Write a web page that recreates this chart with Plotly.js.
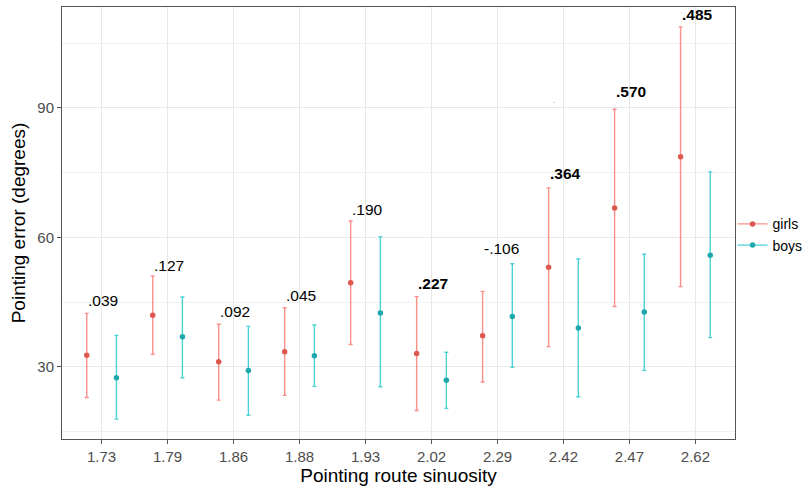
<!DOCTYPE html>
<html>
<head>
<meta charset="utf-8">
<script src="https://cdn.plot.ly/plotly-3.0.1.min.js"></script>
<style>html,body{margin:0;padding:0;background:#fff}#chart{width:805px;height:492px}</style>
</head>
<body>
<div id="chart"></div>
<script>
// Categories (pointing route sinuosity)
const categories = ['1.73','1.79','1.86','1.88','1.93','2.02','2.29','2.42','2.47','2.62'];

// Girls: mean, upper, lower (degrees)
const girlsMean  = [32.7, 42.0, 31.2, 33.5, 49.5, 33.1, 37.2, 53.1, 66.8, 78.7];
const girlsUpper = [42.4, 51.1, 39.9, 43.7, 63.8, 46.3, 47.5, 71.5, 89.7, 108.8];
const girlsLower = [22.9, 32.9, 22.3, 23.4, 35.2, 19.9, 26.5, 34.7, 44.0, 48.6];

// Boys: mean, upper, lower (degrees)
const boysMean  = [27.5, 37.0, 29.2, 32.6, 42.5, 26.9, 41.7, 39.0, 42.7, 55.9];
const boysUpper = [37.3, 46.2, 39.4, 39.7, 60.2, 33.4, 53.9, 55.0, 56.1, 75.2];
const boysLower = [17.9, 27.5, 18.8, 25.5, 25.4, 20.4, 29.9, 23.1, 29.2, 36.8];

// Correlation labels, their bold flag and vertical position (degrees)
const labels     = ['.039', '.127', '.092', '.045', '.190', '.227', '-.106', '.364', '.570', '.485'];
const labelBold  = [false, false, false, false, false, true, false, true, true, true];
const labelY     = [45.3, 53.6, 42.9, 46.6, 66.4, 49.4, 57.5, 74.9, 93.8, 111.7];

const dodge = 0.225;
const idx = categories.map((c, i) => i);
const girlsX = idx.map(i => i - dodge);
const boysX  = idx.map(i => i + dodge);

const girlsPt = '#DE5850';
const boysPt  = '#1FA8AC';

function errTrace(x, mean, up, lo, barCol, ptCol) {
  return {
    type: 'scatter', mode: 'markers', x: x, y: mean, showlegend: false,
    hoverinfo: 'skip',
    marker: {color: ptCol, size: 5.5},
    error_y: {
      type: 'data', symmetric: false,
      array: up.map((u, i) => u - mean[i]),
      arrayminus: lo.map((l, i) => mean[i] - l),
      color: barCol, thickness: 1.4, width: 2
    }
  };
}

const traces = [
  errTrace(girlsX, girlsMean, girlsUpper, girlsLower, 'rgba(248,118,109,0.8)', girlsPt),
  errTrace(boysX, boysMean, boysUpper, boysLower, 'rgba(0,191,196,0.7)', boysPt),
  {type: 'scatter', mode: 'lines+markers', name: 'girls', x: [null], y: [null],
   line: {color: 'rgba(248,118,109,0.8)', width: 1.4}, marker: {color: girlsPt, size: 5.5}},
  {type: 'scatter', mode: 'lines+markers', name: 'boys', x: [null], y: [null],
   line: {color: 'rgba(0,191,196,0.7)', width: 1.4}, marker: {color: boysPt, size: 5.5}}
];

const font = 'Liberation Sans, Arial, sans-serif';
const annotations = labels.map((t, i) => ({
  x: girlsX[i], y: labelY[i], xref: 'x', yref: 'y',
  text: labelBold[i] ? '<b>' + t + '</b>' : t,
  showarrow: false, xanchor: 'left', yanchor: 'middle', xshift: -1,
  font: {family: font, size: 15.5, color: '#000'}
}));
// small stray dot present in the original figure
annotations.push({x: 6.85, y: 91.6, xref: 'x', yref: 'y', text: '.', showarrow: false,
  xanchor: 'center', yanchor: 'middle', font: {family: font, size: 6, color: '#000'}});

const layout = {
  width: 805, height: 492,
  margin: {l: 62, r: 70, t: 7, b: 53, autoexpand: false},
  paper_bgcolor: '#fff', plot_bgcolor: '#fff',
  font: {family: font},
  xaxis: {
    range: [-0.6, 9.6], tickvals: idx, ticktext: categories,
    showline: true, mirror: true, linecolor: '#555', linewidth: 1,
    ticks: 'outside', ticklen: 4, tickcolor: '#555',
    tickfont: {size: 15, color: '#4D4D4D', family: font},
    showgrid: true, gridcolor: '#E8E8E8', gridwidth: 1, zeroline: false,
    title: {text: 'Pointing route sinuosity', font: {size: 19, color: '#000', family: font}, standoff: 4}
  },
  yaxis: {
    range: [13.3, 113.4], tickvals: [30, 60, 90],
    showline: true, mirror: true, linecolor: '#555', linewidth: 1,
    ticks: 'outside', ticklen: 4, tickcolor: '#555',
    tickfont: {size: 15, color: '#4D4D4D', family: font},
    showgrid: true, gridcolor: '#E8E8E8', gridwidth: 1, zeroline: false,
    minor: {tickvals: [15, 45, 75, 105], showgrid: true, gridcolor: '#F1F1F1', gridwidth: 1, ticks: ''},
    title: {text: 'Pointing error (degrees)', font: {size: 19, color: '#000', family: font}, standoff: 6}
  },
  legend: {
    xref: 'container', x: 0.91, xanchor: 'left', y: 0.534, yanchor: 'top',
    font: {size: 14, color: '#000', family: font},
    bgcolor: 'rgba(0,0,0,0)', tracegroupgap: 0, itemwidth: 30
  },
  annotations: annotations,
  showlegend: true
};

Plotly.newPlot('chart', traces, layout, {displayModeBar: false, staticPlot: true});
</script>
</body>
</html>
